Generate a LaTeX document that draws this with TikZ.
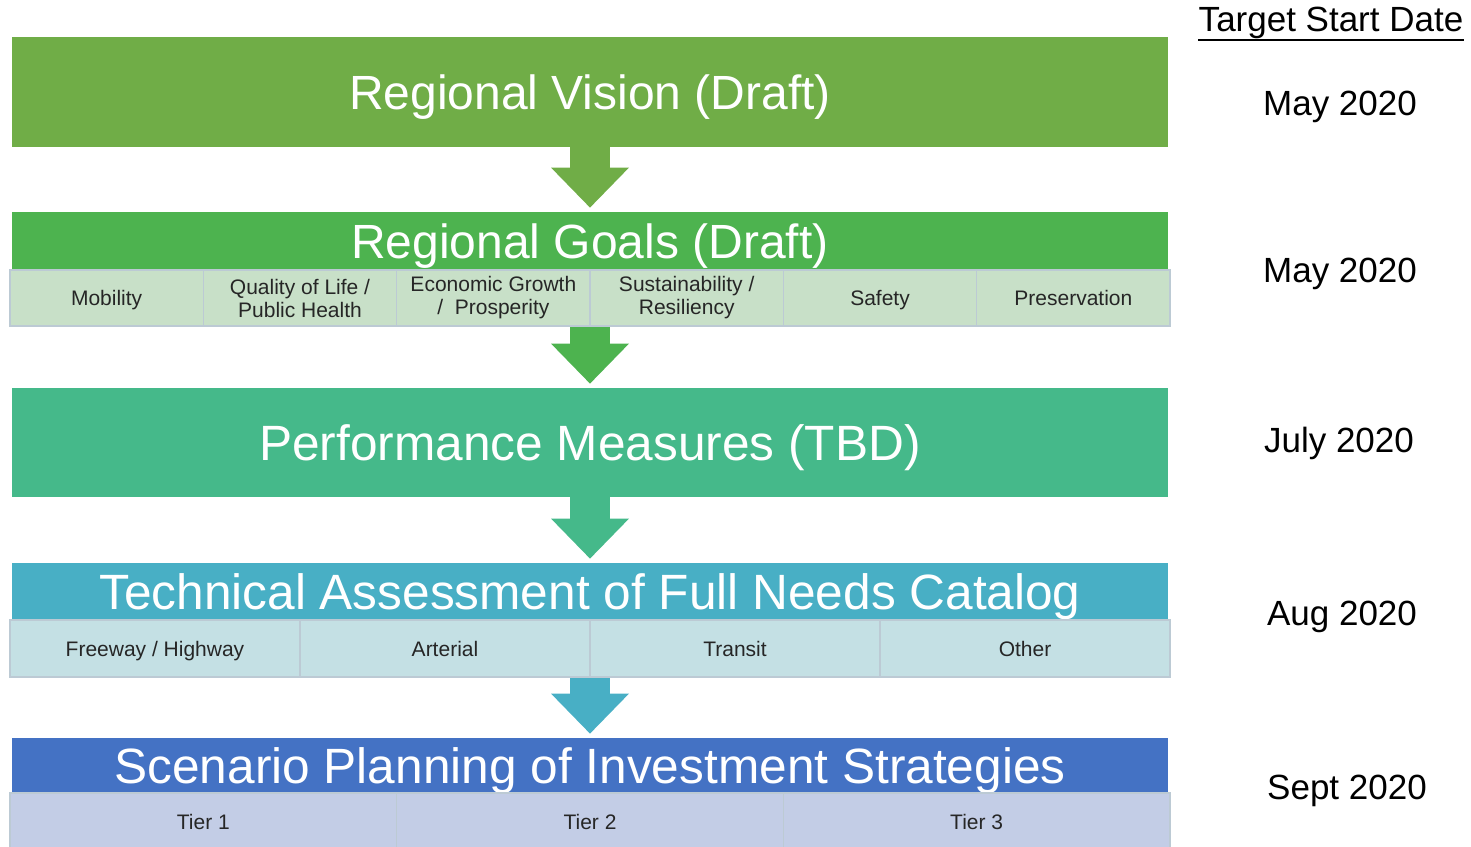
\documentclass[tikz,border=0pt]{standalone}
\usepackage{fontspec}
\setmainfont{Liberation Sans}
\usepackage{xcolor}
\usetikzlibrary{arrows.meta}
\definecolor{vision}{HTML}{70AD47}
\definecolor{goals}{HTML}{4DB34F}
\definecolor{perf}{HTML}{45B98A}
\definecolor{tech}{HTML}{48AFC5}
\definecolor{scen}{HTML}{4472C4}
\definecolor{goalcell}{HTML}{C8E0C8}
\definecolor{techcell}{HTML}{C4E0E4}
\definecolor{scencell}{HTML}{C3CDE6}
\definecolor{celltext}{HTML}{262626}
\definecolor{cellline}{HTML}{BCCAD4}

\begin{document}
\begin{tikzpicture}[x=0.5pt,y=-0.5pt]
        % V,G,P,T,S = stage boxes, g/t/s = cells under a stage, d = dates
        \tikzstyle{box}=[rectangle, minimum width=578pt, inner sep=0pt, text=white, text height=17.5pt, text depth=0pt]
        \tikzstyle{cell}=[rectangle, draw=cellline, line width=0.6pt, inner sep=0pt, text=celltext, align=center, font=\fontsize{10.5}{11.5}\selectfont, text height=7.6pt, text depth=0pt]
        \tikzstyle{twoline}=[cell, text height={}, text depth={}]
        \tikzstyle{date}=[font=\fontsize{17.5}{20}\selectfont, inner sep=0pt, text height=12.6pt, text depth=0pt]
        \tikzstyle{flow}=[line width=20pt, -{Triangle[width=39pt,length=20pt,line width=0pt]}, shorten >=2pt]
        \useasboundingbox (0,0) rectangle (1471,846);

        \node[box, fill=vision, minimum height=55pt, font=\fontsize{24}{28}\selectfont] (V) at (590,92) {Regional Vision (Draft)};
        \node[box, fill=goals, minimum height=29pt, font=\fontsize{24}{28}\selectfont] (G) at (590,241) {Regional Goals (Draft)};
        \node[box, fill=perf, minimum height=54.5pt, font=\fontsize{24.8}{28}\selectfont] (P) at (590,442.5) {Performance Measures (TBD)};
        \node[box, fill=tech, minimum height=28.5pt, font=\fontsize{24.8}{28}\selectfont] (T) at (590,591.5) {Technical Assessment of Full Needs Catalog};
        \node[box, fill=scen, minimum height=27.5pt, font=\fontsize{24.8}{28}\selectfont] (S) at (590,765.5) {Scenario Planning of Investment Strategies};

        \draw[flow, vision] (V.south) -- (G.north);
        \draw[flow, goals] (G.south) -- (P.north);
        \draw[flow, perf] (P.south) -- (T.north);
        \draw[flow, tech] (T.south) -- (S.north);

        \node[cell, fill=goalcell, minimum width=96.67pt, minimum height=28pt] (g1) at (106.67,298) {Mobility};
        \node[twoline, fill=goalcell, minimum width=96.67pt, minimum height=28pt] (g2) [right of = g1, node distance=96.67pt] {Quality of Life /\\Public Health};
        \node[twoline, fill=goalcell, minimum width=96.67pt, minimum height=28pt] (g3) [right of = g2, node distance=96.67pt] {Economic Growth\\/\ \ Prosperity};
        \node[twoline, fill=goalcell, minimum width=96.67pt, minimum height=28pt] (g4) [right of = g3, node distance=96.67pt] {Sustainability /\\Resiliency};
        \node[cell, fill=goalcell, minimum width=96.67pt, minimum height=28pt] (g5) [right of = g4, node distance=96.67pt] {Safety};
        \node[cell, fill=goalcell, minimum width=96.67pt, minimum height=28pt] (g6) [right of = g5, node distance=96.67pt] {Preservation};

        \node[cell, fill=techcell, minimum width=145pt, minimum height=28.5pt] (t1) at (155,648.5) {Freeway / Highway};
        \node[cell, fill=techcell, minimum width=145pt, minimum height=28.5pt] (t2) [right of = t1, node distance=145pt] {Arterial};
        \node[cell, fill=techcell, minimum width=145pt, minimum height=28.5pt] (t3) [right of = t2, node distance=145pt] {Transit};
        \node[cell, fill=techcell, minimum width=145pt, minimum height=28.5pt] (t4) [right of = t3, node distance=145pt] {Other};

        \node[cell, fill=scencell, minimum width=193.33pt, minimum height=28.5pt] (s1) at (203.33,821.5) {Tier 1};
        \node[cell, fill=scencell, minimum width=193.33pt, minimum height=28.5pt] (s2) [right of = s1, node distance=193.33pt] {Tier 2};
        \node[cell, fill=scencell, minimum width=193.33pt, minimum height=28.5pt] (s3) [right of = s2, node distance=193.33pt] {Tier 3};

        \node[date, text depth=3.6pt] (d0) at (1331,23) {Target Start Date};
        \draw[line width=1pt] (d0.south west) -- (d0.south east);
        \node[date] (d1) at (1340,103) {May 2020};
        \node[date] (d2) at (1340,270) {May 2020};
        \node[date] (d3) at (1339,440) {July 2020};
        \node[date] (d4) at (1342,613) {Aug 2020};
        \node[date] (d5) at (1347,787) {Sept 2020};
\end{tikzpicture}
\end{document}
